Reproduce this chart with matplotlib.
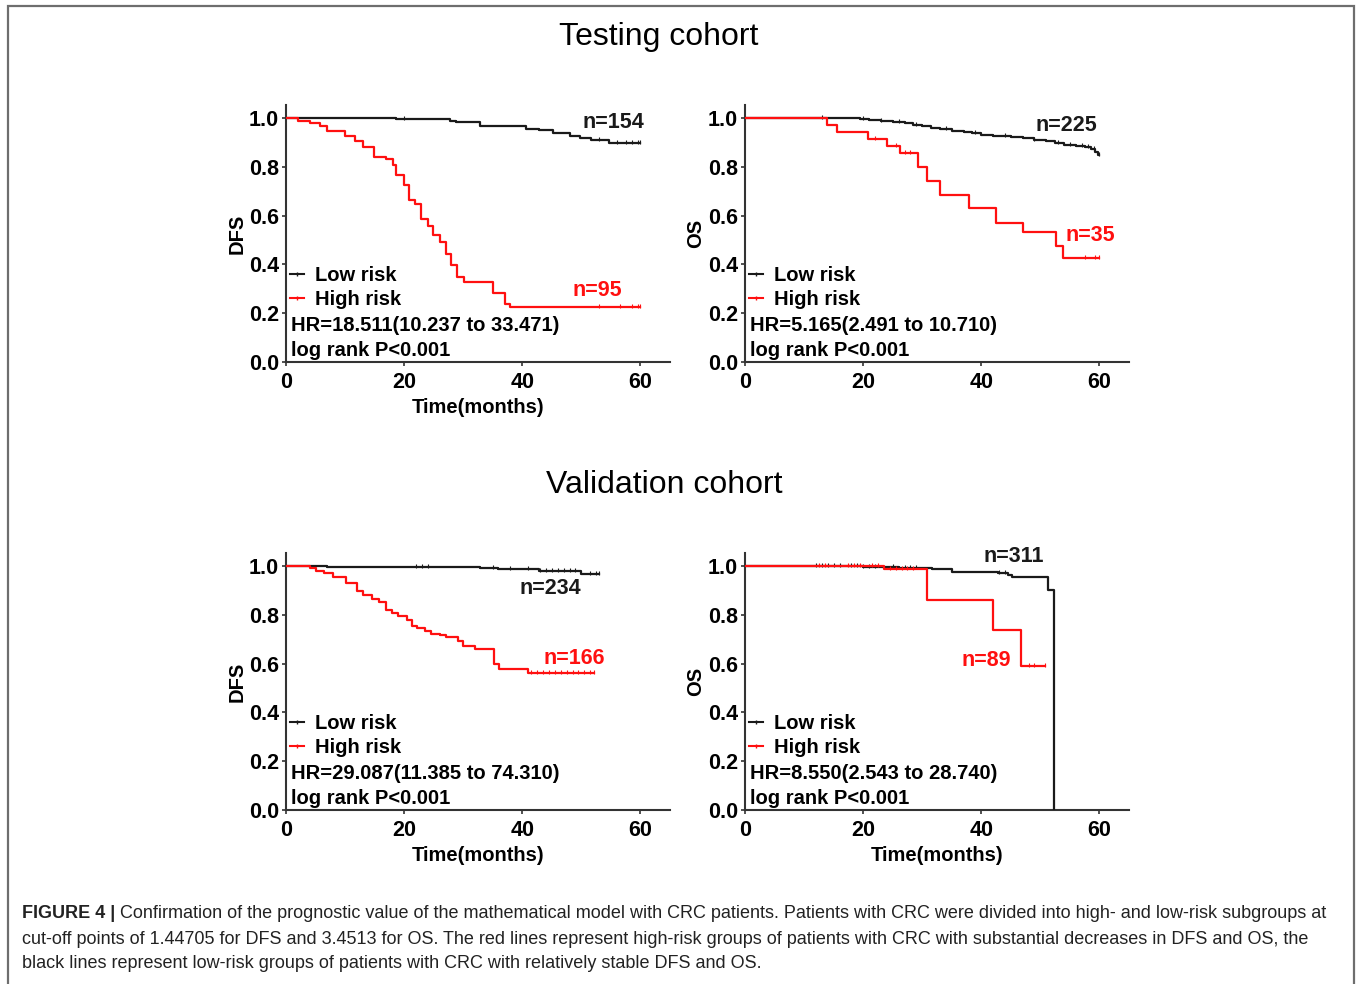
import numpy as np
import matplotlib
matplotlib.use("Agg")
import matplotlib.pyplot as plt
from matplotlib.lines import Line2D
from matplotlib.patches import Rectangle

plt.rcParams['font.family'] = ['Liberation Sans', 'DejaVu Sans']

# ---- Testing cohort, DFS ----
test_dfs_low_t = [0, 18.7, 27.7, 28.8, 32.8, 40.7, 42.9, 45.2, 48.0, 49.7, 51.6, 54.7]
test_dfs_low_s = [1.0, 0.995, 0.989, 0.984, 0.967, 0.956, 0.951, 0.940, 0.924, 0.918, 0.910, 0.899]
test_dfs_low_end = 60
test_dfs_low_cens = [20, 53, 56, 57.5, 58.5, 59.5, 60]
test_dfs_high_t = [0, 2.0, 4.1, 5.8, 6.9, 10.0, 11.7, 13.1, 14.9, 16.9, 18.1, 18.7, 19.9,
                   20.9, 21.9, 22.8, 24.1, 24.9, 26.0, 27.0, 27.9, 29.0, 30.1, 35.0, 37.0, 38.0]
test_dfs_high_s = [1.0, 0.989, 0.979, 0.968, 0.947, 0.926, 0.904, 0.881, 0.840, 0.830, 0.809, 0.765, 0.724,
                   0.663, 0.649, 0.585, 0.557, 0.519, 0.492, 0.444, 0.396, 0.348, 0.328, 0.284, 0.239, 0.225]
test_dfs_high_end = 60
test_dfs_high_cens = [53, 56.5, 58.5, 59.5, 60]

# ---- Testing cohort, OS ----
test_os_low_t = [0, 19.5, 21, 23, 25, 27, 28.5, 30, 31.5, 33, 35, 37, 38.5, 40, 42, 45, 47,
                 49, 51, 52.5, 54, 56, 57.5, 58.5, 59.3, 59.8]
test_os_low_s = [1.0, 0.996, 0.993, 0.989, 0.985, 0.978, 0.972, 0.965, 0.959, 0.953, 0.948, 0.943, 0.937,
                 0.930, 0.925, 0.922, 0.918, 0.910, 0.905, 0.898, 0.890, 0.884, 0.880, 0.872, 0.862, 0.848]
test_os_low_end = 60
test_os_low_cens = [13, 20, 23, 26, 29, 34, 39, 44, 49, 53, 55, 57, 58, 59, 60]
test_os_high_t = [0, 13.8, 15.5, 20.8, 24.0, 26.3, 29.2, 30.8, 33.0, 37.9, 42.5, 47.0, 52.7, 53.8]
test_os_high_s = [1.0, 0.971, 0.943, 0.914, 0.886, 0.857, 0.800, 0.743, 0.686, 0.629, 0.571, 0.533, 0.475, 0.426]
test_os_high_end = 60
test_os_high_cens = [22, 25.5, 27, 28, 57.5, 59.3, 60]

# ---- Validation cohort, DFS ----
val_dfs_low_t = [0, 6.9, 32.8, 35.9, 42.9, 50.0]
val_dfs_low_s = [1.0, 0.997, 0.992, 0.987, 0.981, 0.966]
val_dfs_low_end = 53
val_dfs_low_cens = [22, 23, 24, 35, 38, 41, 43, 44, 45, 46, 47, 48, 49, 51.5, 52.5, 53]
val_dfs_high_t = [0, 4.0, 5.0, 6.5, 8.0, 10.2, 12.0, 13.1, 14.5, 15.7, 16.9, 18.0, 19.0, 20.5,
                  21.3, 22.1, 23.5, 24.6, 26.0, 27.1, 29.1, 29.9, 32.0, 35.2, 36.1, 41.0]
val_dfs_high_s = [1.0, 0.990, 0.980, 0.970, 0.956, 0.932, 0.899, 0.881, 0.863, 0.853, 0.819, 0.808, 0.795, 0.778,
                  0.753, 0.744, 0.734, 0.723, 0.716, 0.707, 0.693, 0.671, 0.658, 0.597, 0.579, 0.562]
val_dfs_high_end = 52.2
val_dfs_high_cens = [41.5, 42.5, 43.5, 44.5, 45.5, 46.5, 47.5, 48.5, 49.5, 50.5, 51.5, 52.2]

# ---- Validation cohort, OS ----
val_os_low_t = [0, 20, 26, 31.7, 35, 38.4, 42.9, 44.6, 45.2, 51.3, 52.3]
val_os_low_s = [1.0, 0.997, 0.993, 0.986, 0.977, 0.974, 0.970, 0.963, 0.956, 0.900, 0.0]
val_os_low_end = 52.3
val_os_low_cens = [12, 13, 14, 15, 16, 18, 19, 20, 21, 22, 25, 27, 28, 29, 43, 44]
val_os_high_t = [0, 23.5, 30.8, 42.0, 46.8]
val_os_high_s = [1.0, 0.987, 0.860, 0.737, 0.590]
val_os_high_end = 50.7
val_os_high_cens = [12.5, 13.5, 17.5, 18.5, 19.5, 21.5, 22.5, 24.5, 25.5, 26.5, 27.5, 28.5, 48, 49, 50.7]

panel_ylabels = ["DFS", "OS", "DFS", "OS"]
panel_hr = ["HR=18.511(10.237 to 33.471)", "HR=5.165(2.491 to 10.710)",
            "HR=29.087(11.385 to 74.310)", "HR=8.550(2.543 to 28.740)"]
panel_n_low = ["n=154", "n=225", "n=234", "n=311"]
panel_n_high = ["n=95", "n=35", "n=166", "n=89"]
n_low_pos = [(55.4, 0.98), (54.4, 0.971), (44.8, 0.906), (45.5, 1.037)]
n_high_pos = [(52.7, 0.291), (58.5, 0.52), (48.8, 0.619), (40.9, 0.611)]
show_xlabel = [True, False, True, True]

caption_bold = "FIGURE 4 | "
caption_lines = [
    "Confirmation of the prognostic value of the mathematical model with CRC patients. Patients with CRC were divided into high- and low-risk subgroups at",
    "cut-off points of 1.44705 for DFS and 3.4513 for OS. The red lines represent high-risk groups of patients with CRC with substantial decreases in DFS and OS, the",
    "black lines represent low-risk groups of patients with CRC with relatively stable DFS and OS.",
]

RED = "#FF1010"
BLACK = "#1a1a1a"
FS = 14.5


def step_value(t, s, x):
    """survival value of a step curve at time x"""
    idx = np.searchsorted(np.asarray(t), x, side="right") - 1
    return np.asarray(s)[idx]


def draw_km(ax, t, s, end, cens, color):
    tt = list(t) + [end]
    ss = list(s) + [s[-1]]
    ax.step(tt, ss, where="post", color=color, lw=1.6, zorder=3)
    cy = [step_value(t, s, c) + 0.004 for c in cens]
    ax.plot(cens, cy, ls="none", marker="|", ms=2.5, mew=0.8, color=color, zorder=3)


fig = plt.figure(figsize=(13.58, 9.84), dpi=100)

W, H = 1358.0, 984.0
px_lefts = [286, 745, 286, 745]
px_bottoms = [362, 362, 810, 810]
ax_w = (670 - 286) / W
ax_h = (362 - 105) / H

curves = [
    (test_dfs_low_t, test_dfs_low_s, test_dfs_low_end, test_dfs_low_cens,
     test_dfs_high_t, test_dfs_high_s, test_dfs_high_end, test_dfs_high_cens),
    (test_os_low_t, test_os_low_s, test_os_low_end, test_os_low_cens,
     test_os_high_t, test_os_high_s, test_os_high_end, test_os_high_cens),
    (val_dfs_low_t, val_dfs_low_s, val_dfs_low_end, val_dfs_low_cens,
     val_dfs_high_t, val_dfs_high_s, val_dfs_high_end, val_dfs_high_cens),
    (val_os_low_t, val_os_low_s, val_os_low_end, val_os_low_cens,
     val_os_high_t, val_os_high_s, val_os_high_end, val_os_high_cens),
]

for i in range(4):
    ax = fig.add_axes([px_lefts[i] / W, 1 - px_bottoms[i] / H, ax_w, ax_h])
    lt, ls_, le, lc, ht, hs, he, hc = curves[i]
    draw_km(ax, lt, ls_, le, lc, BLACK)
    draw_km(ax, ht, hs, he, hc, RED)

    ax.set_xlim(0, 65)
    ax.set_ylim(0, 1.053)
    ax.set_xticks([0, 20, 40, 60])
    ax.set_yticks([0.0, 0.2, 0.4, 0.6, 0.8, 1.0])
    ax.set_yticklabels(["0.0", "0.2", "0.4", "0.6", "0.8", "1.0"])
    for sp in ["top", "right"]:
        ax.spines[sp].set_visible(False)
    for sp in ["left", "bottom"]:
        ax.spines[sp].set_linewidth(1.5)
        ax.spines[sp].set_color("#333333")
    ax.tick_params(length=3, width=1.2, color="#333333", pad=2, labelsize=15.5)
    ax.tick_params(axis="x", pad=4)
    for lab in ax.get_xticklabels() + ax.get_yticklabels():
        lab.set_fontweight("bold")

    ax.set_ylabel(panel_ylabels[i], fontsize=FS, fontweight="bold", labelpad=2)
    if show_xlabel[i]:
        ax.set_xlabel("Time(months)", fontsize=FS, fontweight="bold", labelpad=4)

    handles = [Line2D([0], [0], color=BLACK, lw=1.5, marker="|", ms=3),
               Line2D([0], [0], color=RED, lw=1.5, marker="|", ms=3)]
    ax.legend(handles, ["Low risk", "High risk"], loc="lower left",
              bbox_to_anchor=(0.0, 0.19), frameon=False, handlelength=0.7,
              handletextpad=0.55, borderaxespad=0, borderpad=0.2, labelspacing=0.25,
              prop={"size": FS, "weight": "bold"})
    ax.text(0.85, 0.148, panel_hr[i], fontsize=FS, fontweight="bold", va="center", ha="left")
    ax.text(0.85, 0.049, "log rank P<0.001", fontsize=FS, fontweight="bold", va="center", ha="left")

    ax.text(*n_low_pos[i], panel_n_low[i], fontsize=15.5, fontweight="bold", color=BLACK,
            ha="center", va="center")
    ax.text(*n_high_pos[i], panel_n_high[i], fontsize=15.5, fontweight="bold", color=RED,
            ha="center", va="center")

fig.text(659 / W, 1 - 37 / H, "Testing cohort", fontsize=23, ha="center", va="center")
fig.text(664 / W, 1 - 485 / H, "Validation cohort", fontsize=23, ha="center", va="center")

# outer frame
fig.patches.append(Rectangle((8 / W, -0.01), (1354 - 8) / W, 1 - 6 / H + 0.01,
                             transform=fig.transFigure, fill=False, ec="#6e6e6e", lw=1.6))

# caption
cap_font = ['Liberation Sans Narrow', 'Liberation Sans', 'DejaVu Sans']
CFS = 13.0
fig.canvas.draw()
renderer = fig.canvas.get_renderer()
t0 = fig.text(22 / W, 1 - 914 / H, caption_bold, fontsize=CFS, fontweight="bold",
              family=cap_font, va="center", ha="left", color="#222222")
bb = t0.get_window_extent(renderer=renderer)
fig.text(bb.x1 / W, 1 - 914 / H, caption_lines[0], fontsize=CFS, family=cap_font,
         va="center", ha="left", color="#222222")
fig.text(22 / W, 1 - 939 / H, caption_lines[1], fontsize=CFS, family=cap_font,
         va="center", ha="left", color="#222222")
fig.text(22 / W, 1 - 964 / H, caption_lines[2], fontsize=CFS, family=cap_font,
         va="center", ha="left", color="#222222")

fig.savefig("out.png", dpi=100)
